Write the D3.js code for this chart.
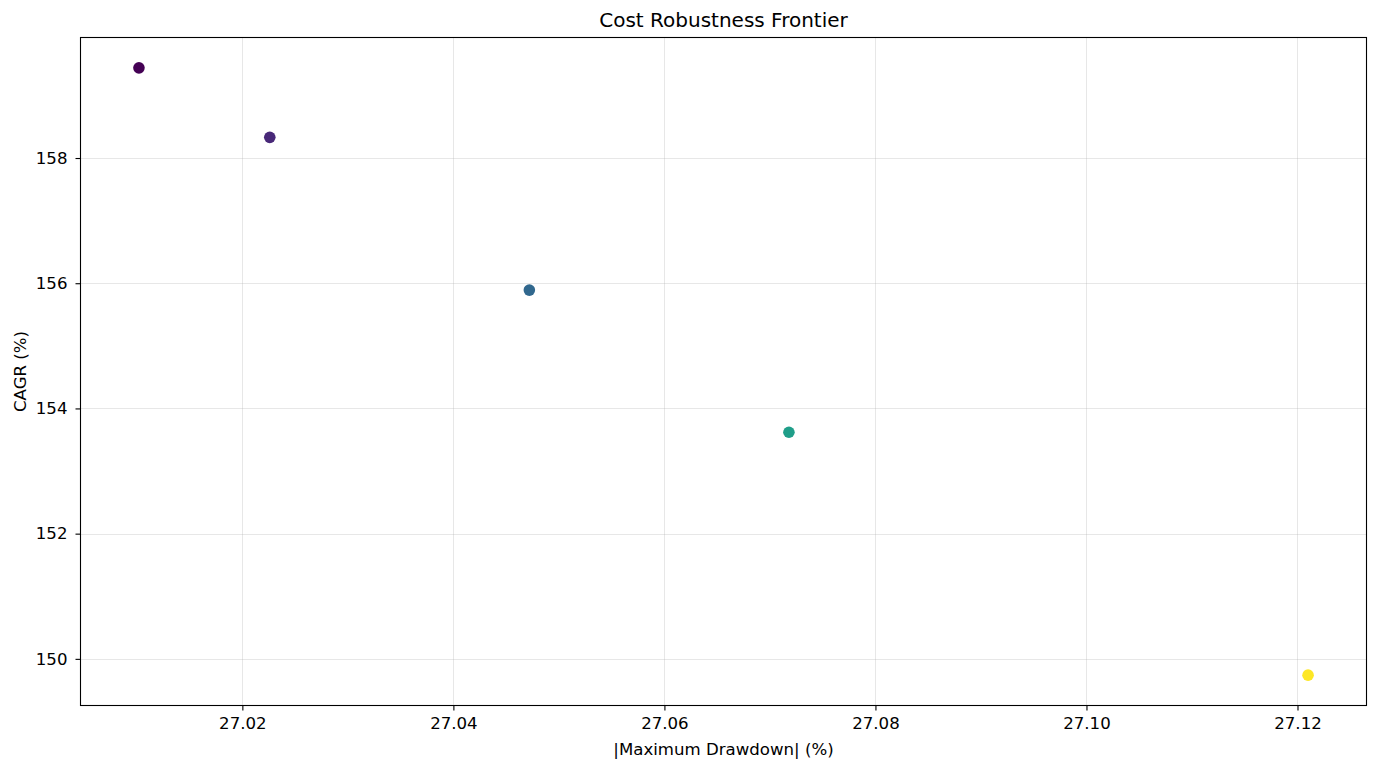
<!DOCTYPE html>
<html>
<head>
<meta charset="utf-8">
<script src="https://cdn.jsdelivr.net/npm/d3@7"></script>
<style>
  body { margin: 0; background: #fff; }
  text { font-family: "DejaVu Sans", sans-serif; fill: #000; }
</style>
</head>
<body>
<svg id="chart" width="1378" height="771"></svg>
<script>
// data
var costs = [1, 2, 4, 6, 10]
var drawdown = [27.0102, 27.0226, 27.0472, 27.0718, 27.1210]
var cagr = [159.44, 158.33, 155.89, 153.62, 149.74]
var xTicks = [27.02, 27.04, 27.06, 27.08, 27.10, 27.12]
var yTicks = [150, 152, 154, 156, 158]

var width = 1378
var height = 771
var margin = {top: 37.5, right: 11.5, bottom: 65.5, left: 80.5}
var svg = d3.select("#chart")

var x = d3.scaleLinear()
    .domain([27.00466, 27.12654])
    .range([margin.left, width - margin.right])
var y = d3.scaleLinear()
    .domain([149.255, 159.925])
    .range([height - margin.bottom, margin.top])
var color = d3.scaleSequential(d3.interpolateViridis)
    .domain(d3.extent(costs))

var points = costs.map(function(c, i) {
  return {cost: c, dd: drawdown[i], cagr: cagr[i]}
})

// grid
var grid = svg.append("g")
grid.selectAll(".gx").data(xTicks).enter().append("line")
    .attr("x1", d => Math.round(x(d)) + 0.5).attr("x2", d => Math.round(x(d)) + 0.5)
    .attr("y1", margin.top).attr("y2", height - margin.bottom)
    .attr("stroke", "#b0b0b0").attr("stroke-opacity", 0.3).attr("stroke-width", 1)
grid.selectAll(".gy").data(yTicks).enter().append("line")
    .attr("y1", d => Math.round(y(d)) + 0.5).attr("y2", d => Math.round(y(d)) + 0.5)
    .attr("x1", margin.left).attr("x2", width - margin.right)
    .attr("stroke", "#b0b0b0").attr("stroke-opacity", 0.3).attr("stroke-width", 1)

// points
svg.append("g").selectAll("circle")
    .data(points)
    .enter()
    .append("circle")
    .attr("cx", d => x(d.dd))
    .attr("cy", d => y(d.cagr))
    .attr("r", 5.8)
    .attr("fill", d => color(d.cost))

// axes
var xAxis = svg.append("g")
    .attr("transform", "translate(0," + (height - margin.bottom) + ")")
    .call(d3.axisBottom(x).tickValues(xTicks).tickFormat(d3.format(".2f")).tickSize(5).tickPadding(7))
var yAxis = svg.append("g")
    .attr("transform", "translate(" + margin.left + ",0)")
    .call(d3.axisLeft(y).tickValues(yTicks).tickFormat(d3.format("d")).tickSize(5).tickPadding(8))
;[xAxis, yAxis].forEach(function(a) {
  a.select(".domain").remove()
  a.selectAll("line").attr("stroke", "#000").attr("stroke-width", 1.1)
  a.selectAll("text").style("font-size", "16.6px").style("font-family", "DejaVu Sans, sans-serif")
})

// frame
svg.append("rect")
    .attr("x", margin.left).attr("y", margin.top)
    .attr("width", width - margin.left - margin.right)
    .attr("height", height - margin.top - margin.bottom)
    .attr("fill", "none").attr("stroke", "#000").attr("stroke-width", 1.1)

// labels
svg.append("text")
    .attr("x", (margin.left + width - margin.right) / 2).attr("y", 27)
    .attr("text-anchor", "middle").style("font-size", "20px")
    .text("Cost Robustness Frontier")
svg.append("text")
    .attr("x", (margin.left + width - margin.right) / 2).attr("y", 755)
    .attr("text-anchor", "middle").style("font-size", "16.6px")
    .text("|Maximum Drawdown| (%)")
svg.append("text")
    .attr("transform", "translate(26," + ((margin.top + height - margin.bottom) / 2) + ") rotate(-90)")
    .attr("text-anchor", "middle").style("font-size", "16.6px")
    .text("CAGR (%)")
</script>
</body>
</html>
